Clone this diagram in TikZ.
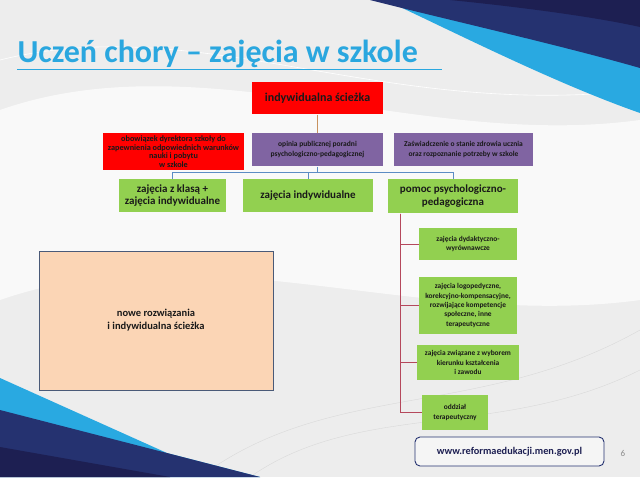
\documentclass[tikz,border=0pt]{standalone}
\usepackage{fontspec}
\setmainfont{Carlito}
\usetikzlibrary{positioning, calc}

\definecolor{titleblue}{HTML}{2AA7DF}
\definecolor{navy}{HTML}{253270}
\definecolor{deepnavy}{HTML}{1D1F52}
\definecolor{skyblue}{HTML}{29A9E1}
\definecolor{boxred}{HTML}{FF0000}
\definecolor{boxpurple}{HTML}{8064A2}
\definecolor{boxgreen}{HTML}{92D050}
\definecolor{peach}{HTML}{FBD5B5}
\definecolor{peachedge}{HTML}{4A5A78}
\definecolor{tanline}{HTML}{C8925E}
\definecolor{busblue}{HTML}{5C8CC4}
\definecolor{spinered}{HTML}{B5485C}

\tikzset{
  box/.style={inner sep=1pt, align=center, text=black!90, font=\bfseries},
  redbox/.style={box, fill=boxred},
  purplebox/.style={box, fill=boxpurple, font=\bfseries\fontsize{7.5}{9.5}\selectfont},
  greenbox/.style={box, fill=boxgreen, font=\bfseries\fontsize{11}{12.5}\selectfont},
  subbox/.style={box, fill=boxgreen, font=\bfseries\fontsize{7.4}{9.4}\selectfont},
}

\begin{document}
\begin{tikzpicture}[x=1pt, y=-1pt, line width=1pt]
  \useasboundingbox (0,0) rectangle (640,477);
  % Background and swooshes
  \fill[black!7] (0,0) rectangle (640,477);
  \fill[white, opacity=0.7] (0,110) .. controls (200,40) and (420,150) .. (640,120)
    -- (640,300) .. controls (420,330) and (200,230) .. (0,300) -- cycle;
  \draw[white, line width=0.6pt] (0,60) .. controls (200,10) and (380,120) .. (640,90);
  \draw[black!15, line width=0.4pt] (200,477) .. controls (330,380) and (480,420) .. (640,330);
  \draw[black!15, line width=0.4pt] (250,477) .. controls (360,400) and (500,440) .. (640,370);
  \fill[skyblue] (398,6) .. controls (470,40) and (560,85) .. (640,113) -- (640,0) -- cycle;
  \fill[navy] (370,0) .. controls (440,18) and (560,45) .. (640,68) -- (640,0) -- cycle;
  \fill[deepnavy] (450,0) .. controls (530,8) and (600,18) .. (640,27) -- (640,0) -- cycle;
  \fill[skyblue] (0,378) -- (167,453) -- (260,477) -- (0,477) -- cycle;
  \fill[navy] (0,410) -- (260,477) -- (0,477) -- cycle;
  \fill[deepnavy] (0,447) -- (170,477) -- (0,477) -- cycle;

  % Title
  \node[anchor=base west, text=titleblue, font=\bfseries\fontsize{32}{36}\selectfont,
    inner sep=0] (title) at (17,62) {Uczeń chory – zajęcia w szkole};
  \draw[titleblue, line width=1.2pt] (17,69.5) -- (442,69.5);

  % Top level
  \node[redbox, minimum width=131pt, minimum height=32pt, font=\bfseries\fontsize{12}{14}\selectfont]
    (top) at (317.5,98) {indywidualna ścieżka};
  \node[redbox, minimum width=141pt, minimum height=37pt, font=\bfseries\fontsize{8.2}{8.6}\selectfont]
    (duty) at (173.5,151.5) {obowiązek dyrektora szkoły do\\zapewnienia odpowiednich warunków\\nauki i pobytu\\w szkole};
  \node[purplebox, minimum width=131pt, minimum height=33pt]
    (mid) at (317.5,149.5) {opinia publicznej poradni\\psychologiczno-pedagogicznej};
  \node[purplebox, minimum width=139pt, minimum height=33pt]
    (cert) at (463.5,149.5) {Zaświadczenie o stanie zdrowia ucznia\\oraz rozpoznanie potrzeby w szkole};
  \draw[tanline] (top.south) -- (mid.north);

  % Forms of classes
  \node[greenbox, minimum width=107pt, minimum height=33pt]
    (g1) at (172.5,195.5) {zajęcia z klasą +\\zajęcia indywidualne};
  \node[greenbox, minimum width=130pt, minimum height=33pt]
    (g2) at (308,195.5) {zajęcia indywidualne};
  \node[greenbox, minimum width=130pt, minimum height=34pt]
    (g3) at (453,196) {pomoc psychologiczno-\\pedagogiczna};
  \coordinate (bus) at (317.5,172);
  \draw[busblue] (mid.south) -- (bus);
  \draw[busblue] (bus) -| (g1.north);
  \draw[busblue] (bus) -| (g2.north);
  \draw[busblue] (bus) -| (g3.north);

  % Psychological support
  \node[subbox, minimum width=98pt, minimum height=32pt]
    (s1) at (468,244) {zajęcia dydaktyczno-\\wyrównawcze};
  \node[subbox, minimum width=98pt, minimum height=57pt]
    (s2) at (468,305.5) {zajęcia logopedyczne,\\korekcyjno-kompensacyjne,\\rozwijające kompetencje\\społeczne, inne\\terapeutyczne};
  \node[subbox, minimum width=102pt, minimum height=35pt]
    (s3) at (468,362.5) {zajęcia związane z wyborem\\kierunku kształcenia\\i zawodu};
  \node[subbox, minimum width=66pt, minimum height=35pt]
    (s4) at (455,412.5) {oddział\\terapeutyczny};
  \coordinate (spine) at ($(g3.south west)+(13,0)$);
  \draw[spinered] (spine) |- (s1.west);
  \draw[spinered] (spine) |- (s2.west);
  \draw[spinered] (spine) |- (s3.west);
  \draw[spinered] (spine) |- (s4.west);

  % New solutions
  \node[box, fill=peach, draw=peachedge, line width=0.8pt, minimum width=234pt,
    minimum height=139pt, font=\bfseries\fontsize{10.5}{13}\selectfont]
    (new) at (156,320.5) {nowe rozwiązania\\i indywidualna ścieżka};

  % Footer
  \node[box, draw=navy, fill=white!96!black, rounded corners=5pt, line width=0.9pt,
    minimum width=189pt, minimum height=29pt, text=deepnavy,
    font=\bfseries\fontsize{10.3}{12}\selectfont]
    (web) at (509.5,451.5) {www.reformaedukacji.men.gov.pl};
  \node[text=black!45, font=\fontsize{9}{11}\selectfont] (page) at (623,453) {6};
\end{tikzpicture}
\end{document}
